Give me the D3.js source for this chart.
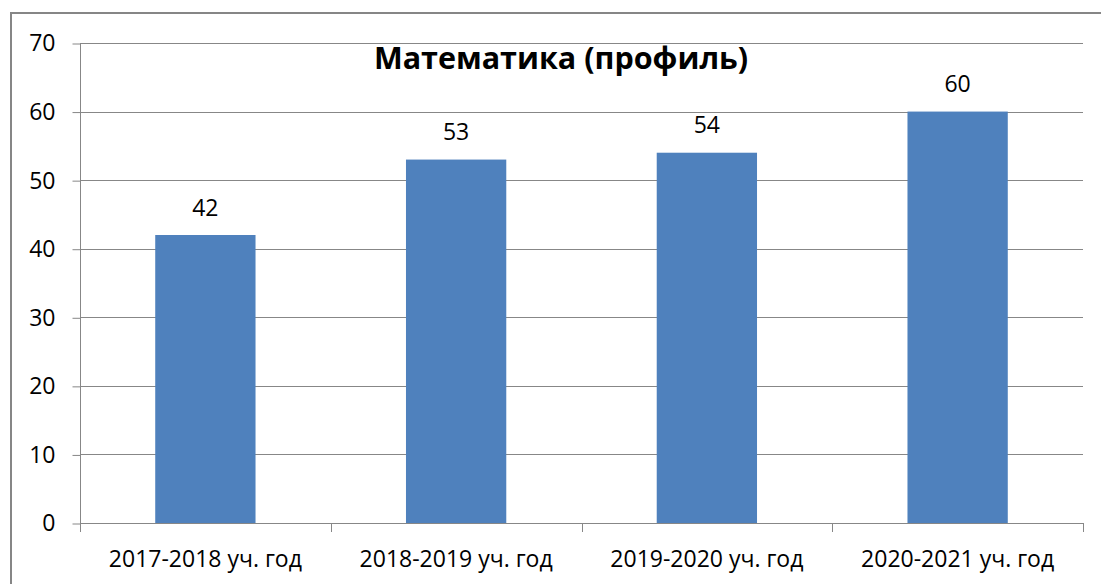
<!DOCTYPE html>
<html>
<head>
<meta charset="utf-8">
<script src="https://d3js.org/d3.v7.min.js"></script>
<style>
  html, body { margin: 0; padding: 0; background: #fff; }
  svg { display: block; }
</style>
</head>
<body>
<div id="chart"></div>
<script>
const categories = ["2017-2018 уч. год", "2018-2019 уч. год", "2019-2020 уч. год", "2020-2021 уч. год"];
const values = [42, 53, 54, 60];
const yTicks = [0, 10, 20, 30, 40, 50, 60, 70];
const title = "Математика (профиль)";

const W = 1101, H = 584;
const plot = { left: 80, right: 1083, top: 43, bottom: 523 };
const font = "'Open Sans', 'DejaVu Sans', sans-serif";
const fs = 23;
const gridColor = "#878787";
const barColor = "#4F81BD";

const svg = d3.select("#chart").append("svg")
  .attr("width", W).attr("height", H);

// outer frame (extends beyond right/bottom)
svg.append("rect")
  .attr("x", 11).attr("y", 13)
  .attr("width", 1200).attr("height", 700)
  .attr("fill", "#fff")
  .attr("stroke", "#868686").attr("stroke-width", 2);

const x = d3.scaleBand().domain(categories).range([plot.left, plot.right]).paddingInner(0.6).paddingOuter(0.3);
const y = d3.scaleLinear().domain([0, 70]).range([plot.bottom, plot.top]);

// gridlines
svg.append("g").selectAll("line").data(yTicks).join("line")
  .attr("x1", plot.left).attr("x2", plot.right)
  .attr("y1", d => Math.round(y(d)) + 0.5).attr("y2", d => Math.round(y(d)) + 0.5)
  .attr("stroke", gridColor).attr("stroke-width", 1);

// Y axis
const yAxis = svg.append("g")
  .attr("transform", `translate(${plot.left + 0.5},0.5)`)
  .call(d3.axisLeft(y).tickValues(yTicks).tickSize(8).tickPadding(17).tickFormat(d3.format("d")));
yAxis.selectAll("path").attr("stroke", gridColor).attr("d", `M-0,${Math.round(plot.top)}V${Math.round(plot.bottom)}`);
yAxis.selectAll("line").attr("stroke", gridColor);
yAxis.selectAll("text").attr("font-family", font).attr("font-size", fs).attr("fill", "#000");

// bars
svg.append("g").selectAll("rect").data(values).join("rect")
  .attr("x", (d, i) => x(categories[i]))
  .attr("y", d => y(d))
  .attr("width", x.bandwidth())
  .attr("height", d => y(0) - y(d))
  .attr("fill", barColor);

// X axis
const step = x.step();
const boundaries = d3.range(categories.length + 1).map(i => plot.left + i * step);
svg.append("g").selectAll("line").data(boundaries).join("line")
  .attr("x1", d => Math.round(d) + 0.5).attr("x2", d => Math.round(d) + 0.5)
  .attr("y1", plot.bottom).attr("y2", plot.bottom + 9)
  .attr("stroke", gridColor);
svg.append("line")
  .attr("x1", plot.left).attr("x2", plot.right)
  .attr("y1", Math.round(plot.bottom) + 0.5).attr("y2", Math.round(plot.bottom) + 0.5)
  .attr("stroke", gridColor);
svg.append("g").selectAll("text").data(categories).join("text")
  .attr("x", d => x(d) + x.bandwidth() / 2)
  .attr("y", 567)
  .attr("text-anchor", "middle")
  .attr("font-family", font).attr("font-size", fs).attr("fill", "#000")
  .text(d => d);

// value labels
svg.append("g").selectAll("text").data(values).join("text")
  .attr("x", (d, i) => x(categories[i]) + x.bandwidth() / 2)
  .attr("y", d => y(d) - 19.5)
  .attr("text-anchor", "middle")
  .attr("font-family", font).attr("font-size", fs).attr("fill", "#000")
  .text(d => d);

// title
svg.append("text")
  .attr("x", 561).attr("y", 69)
  .attr("text-anchor", "middle")
  .attr("font-family", font).attr("font-weight", "bold").attr("font-size", 30.5).attr("fill", "#000")
  .text(title);
</script>
</body>
</html>
